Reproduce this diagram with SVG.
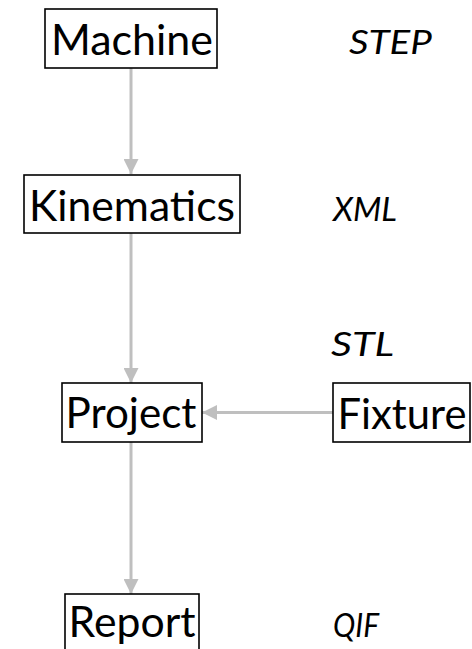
<svg xmlns="http://www.w3.org/2000/svg" width="472" height="649" viewBox="0 0 472 649">
<defs>
<style>
.box{fill:#fff;stroke:#000;stroke-width:1.6}
.lbl{font-family:Lato,"Open Sans","Liberation Sans",sans-serif;font-size:43px;fill:#000;text-anchor:middle}
.fmt{font-family:Lato,"Open Sans","Liberation Sans",sans-serif;font-size:33px;font-style:italic;fill:#000}
.conn{stroke:#bfbfbf;stroke-width:3;fill:none}
</style>
<marker id="ah" viewBox="0 0 10 10" refX="10" refY="5" markerWidth="5" markerHeight="5" markerUnits="strokeWidth" orient="auto">
<path d="M0,0 L10,5 L0,10 Z" fill="#bfbfbf"/>
</marker>
</defs>
<rect width="472" height="649" fill="#fff"/>
<g id="connectors">
<line class="conn" x1="131" y1="68" x2="131" y2="174" marker-end="url(#ah)"/>
<line class="conn" x1="131" y1="233" x2="131" y2="383" marker-end="url(#ah)"/>
<line class="conn" x1="131" y1="442" x2="131" y2="594" marker-end="url(#ah)"/>
<line class="conn" x1="333" y1="412.5" x2="202" y2="412.5" marker-end="url(#ah)"/>
</g>
<g id="machine">
<rect class="box" x="45" y="9" width="172" height="59"/>
<text class="lbl" x="132" y="55" textLength="162" lengthAdjust="spacingAndGlyphs">Machine</text>
</g>
<g id="kinematics">
<rect class="box" x="24" y="175" width="216" height="58"/>
<text class="lbl" x="132" y="221" textLength="206" lengthAdjust="spacingAndGlyphs">Kinematics</text>
</g>
<g id="project">
<rect class="box" x="62" y="383" width="140" height="59"/>
<text class="lbl" x="131" y="428" textLength="131" lengthAdjust="spacingAndGlyphs">Project</text>
</g>
<g id="fixture">
<rect class="box" x="333" y="383" width="137" height="59"/>
<text class="lbl" x="402" y="429" textLength="129" lengthAdjust="spacingAndGlyphs">Fixture</text>
</g>
<g id="report">
<rect class="box" x="65" y="594" width="134" height="70"/>
<text class="lbl" x="132" y="637" textLength="127" lengthAdjust="spacingAndGlyphs">Report</text>
</g>
<g id="formats">
<text class="fmt" x="349" y="54" textLength="83" lengthAdjust="spacingAndGlyphs">STEP</text>
<text class="fmt" x="333" y="221" textLength="64" lengthAdjust="spacingAndGlyphs">XML</text>
<text class="fmt" x="331" y="356" textLength="63" lengthAdjust="spacingAndGlyphs">STL</text>
<text class="fmt" x="333" y="637" textLength="46" lengthAdjust="spacingAndGlyphs">QIF</text>
</g>
</svg>
